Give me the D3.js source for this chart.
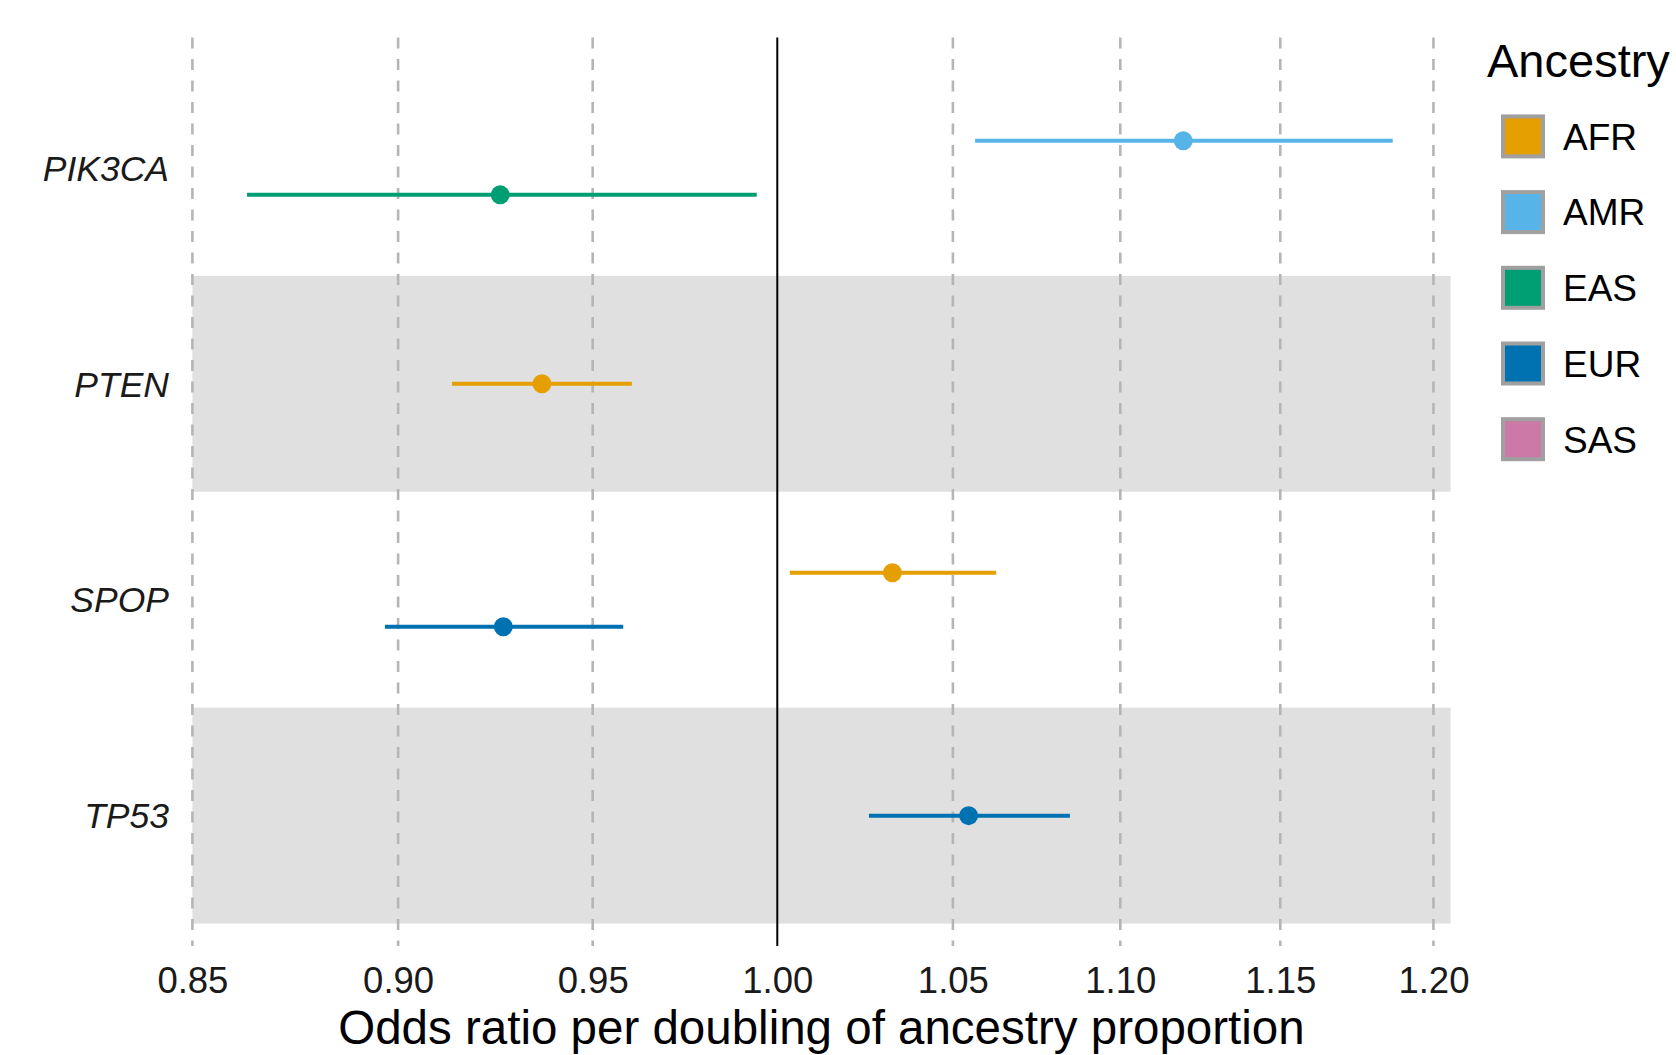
<!DOCTYPE html>
<html>
<head>
<meta charset="utf-8">
<script src="https://cdn.jsdelivr.net/npm/d3@7"></script>
<style>
  body { margin: 0; background: #fff; }
  svg { display: block; font-family: "Liberation Sans", Arial, Helvetica, sans-serif; }
</style>
</head>
<body>
<div id="chart"></div>
<script>
// data
const genes = ["PIK3CA", "PTEN", "SPOP", "TP53"];
const ancestries = ["AFR", "AMR", "EAS", "EUR", "SAS"];
const ancestryColors = ["#E69F00", "#56B4E9", "#009E73", "#0072B2", "#CC79A7"];
const shadedGenes = ["PTEN", "TP53"];

const estGene = ["PIK3CA", "PIK3CA", "PTEN", "SPOP", "SPOP", "TP53"];
const estAncestry = ["AMR", "EAS", "AFR", "AFR", "EUR", "EUR"];
const estOR = [1.1194, 0.9259, 0.9367, 1.0325, 0.9267, 1.0546];
const estLow = [1.0565, 0.8630, 0.9136, 1.0035, 0.8967, 1.0258];
const estHigh = [1.1865, 0.9943, 0.9604, 1.0627, 0.9581, 1.0847];

const xTicks = [0.85, 0.90, 0.95, 1.00, 1.05, 1.10, 1.15, 1.20];
const xDomain = [0.85, 1.2057];

(function () {
    const W = 1676, H = 1055;
    const left = 192.4, right = 1450.5;
    const panelTop = 37.4, panelBottom = 946;
    const rowsTop = 59.9, rowsBottom = 923.6;

    const rows = estGene.map((g, i) => ({
        gene: g, anc: estAncestry[i], or: estOR[i], lo: estLow[i], hi: estHigh[i]
    }));

    const svg = d3.select("#chart").append("svg")
        .attr("width", W)
        .attr("height", H);

    const x = d3.scaleLog().domain(xDomain).range([left, right]);
    const y = d3.scaleBand().domain(genes).range([rowsTop, rowsBottom]).padding(0);
    const color = d3.scaleOrdinal().domain(ancestries).range(ancestryColors);

    // shaded bands
    svg.selectAll("rect.band")
        .data(shadedGenes)
        .enter()
        .append("rect")
        .attr("class", "band")
        .attr("x", left)
        .attr("width", right - left)
        .attr("y", d => y(d))
        .attr("height", y.bandwidth())
        .attr("fill", "#E0E0E0");

    // dashed grid
    svg.selectAll("line.grid")
        .data(xTicks.filter(d => d !== 1))
        .enter()
        .append("line")
        .attr("class", "grid")
        .attr("x1", d => x(d)).attr("x2", d => x(d))
        .attr("y1", panelTop).attr("y2", panelBottom)
        .attr("stroke", "#B5B5B5")
        .attr("stroke-width", 2.6)
        .attr("stroke-dasharray", "11 10.5");

    // reference line at 1
    svg.append("line")
        .attr("x1", x(1)).attr("x2", x(1))
        .attr("y1", panelTop).attr("y2", panelBottom)
        .attr("stroke", "#000")
        .attr("stroke-width", 2);

    // dodge within each gene
    const dodgeWidth = y.bandwidth() * 0.5;
    function yPos(d) {
        const present = ancestries.filter(a => rows.some(r => r.gene === d.gene && r.anc === a));
        if (present.length === 1) return y(d.gene) + y.bandwidth() / 2;
        const inner = d3.scaleBand().domain(present).range([-dodgeWidth / 2, dodgeWidth / 2]);
        return y(d.gene) + y.bandwidth() / 2 + inner(d.anc) + inner.bandwidth() / 2;
    }

    svg.selectAll("line.ci")
        .data(rows)
        .enter()
        .append("line")
        .attr("class", "ci")
        .attr("x1", d => x(d.lo)).attr("x2", d => x(d.hi))
        .attr("y1", yPos).attr("y2", yPos)
        .attr("stroke", d => color(d.anc))
        .attr("stroke-width", 4);

    svg.selectAll("circle.pt")
        .data(rows)
        .enter()
        .append("circle")
        .attr("class", "pt")
        .attr("cx", d => x(d.or))
        .attr("cy", yPos)
        .attr("r", 9.5)
        .attr("fill", d => color(d.anc));

    // y labels
    svg.selectAll("text.gene")
        .data(genes)
        .enter()
        .append("text")
        .attr("class", "gene")
        .attr("x", 169)
        .attr("y", d => y(d) + y.bandwidth() / 2)
        .attr("dy", "0.36em")
        .attr("text-anchor", "end")
        .attr("font-style", "italic")
        .attr("font-size", 35.5)
        .attr("fill", "#1a1a1a")
        .text(d => d);

    // x axis
    const xAxis = svg.append("g")
        .attr("transform", `translate(0,${panelBottom})`)
        .call(d3.axisBottom(x).tickValues(xTicks).tickFormat(d3.format(".2f")).tickSize(0).tickPadding(21));
    xAxis.select(".domain").remove();
    xAxis.selectAll("text")
        .attr("font-size", 36.5)
        .attr("fill", "#1a1a1a")
        .attr("font-family", "'Liberation Sans', Arial, sans-serif");

    svg.append("text")
        .attr("x", (left + right) / 2)
        .attr("y", 1044)
        .attr("text-anchor", "middle")
        .attr("font-size", 47.5)
        .attr("fill", "#000")
        .text("Odds ratio per doubling of ancestry proportion");

    // legend
    const legend = svg.append("g");
    legend.append("text")
        .attr("x", 1487)
        .attr("y", 77)
        .attr("font-size", 47)
        .attr("fill", "#000")
        .text("Ancestry");

    const keys = legend.selectAll("g.key")
        .data(ancestries)
        .enter()
        .append("g")
        .attr("class", "key")
        .attr("transform", (d, i) => `translate(1501,${114.4 + i * 75.7})`);
    keys.append("rect")
        .attr("x", 2).attr("y", 2)
        .attr("width", 40).attr("height", 40)
        .attr("fill", d => color(d))
        .attr("stroke", "#A0A0A0")
        .attr("stroke-width", 4);
    keys.append("text")
        .attr("x", 62)
        .attr("y", 22)
        .attr("dy", "0.36em")
        .attr("font-size", 37)
        .attr("fill", "#000")
        .text(d => d);
})();
</script>
</body>
</html>
